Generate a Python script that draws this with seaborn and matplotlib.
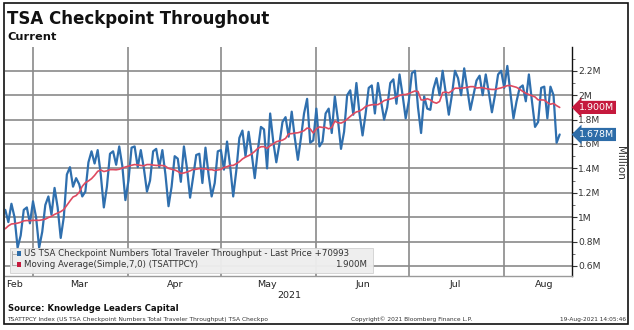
import numpy as np
import pandas as pd
import matplotlib
matplotlib.use("Agg")
import matplotlib.pyplot as plt
import matplotlib.dates as mdates
import matplotlib.transforms as mtransforms
from matplotlib.patches import Rectangle
from matplotlib.lines import Line2D
import seaborn as sns

# ---------------- data (million travellers, daily, as dated on the chart) ----------------
start_date = "2021-02-14"
throughput_m = [
    0.80,
    1.00, 0.98, 0.72, 0.80, 0.98, 1.06, 0.96,
    1.11, 1.00, 0.75, 0.85, 1.06, 1.08, 0.95,
    1.13, 1.00, 0.75, 0.88, 1.10, 1.17, 1.02,
    1.24, 1.08, 0.83, 1.00, 1.35, 1.41, 1.25,
    1.32, 1.27, 1.17, 1.21, 1.45, 1.54, 1.44,
    1.55, 1.35, 1.08, 1.25, 1.52, 1.54, 1.43,
    1.58, 1.42, 1.14, 1.30, 1.57, 1.58, 1.41,
    1.55, 1.40, 1.21, 1.30, 1.54, 1.56, 1.41,
    1.55, 1.35, 1.09, 1.25, 1.50, 1.48, 1.29,
    1.58, 1.40, 1.16, 1.33, 1.51, 1.52, 1.28,
    1.57, 1.35, 1.17, 1.28, 1.54, 1.55, 1.39,
    1.62, 1.42, 1.17, 1.38, 1.65, 1.71, 1.50,
    1.70, 1.52, 1.32, 1.55, 1.74, 1.72, 1.40,
    1.85, 1.62, 1.45, 1.60, 1.78, 1.82, 1.66,
    1.865, 1.65, 1.47, 1.65, 1.85, 1.97, 1.61,
    1.63, 1.89, 1.58, 1.62, 1.85, 1.89, 1.69,
    1.99, 1.80, 1.56, 1.70, 2.00, 2.04, 1.84,
    2.10, 1.85, 1.67, 1.85, 2.06, 2.08, 1.85,
    2.10, 1.95, 1.80, 1.90, 2.10, 2.13, 1.93,
    2.17, 2.00, 1.81, 1.95, 2.18, 2.20, 1.90,
    1.69, 1.99, 1.89, 1.88, 2.05, 2.14, 2.00,
    2.20, 2.02, 1.84, 2.00, 2.20, 2.14, 2.00,
    2.22, 2.05, 1.88, 2.00, 2.12, 2.16, 2.00,
    2.17, 2.02, 1.86, 2.00, 2.17, 2.20, 2.06,
    2.24, 2.02, 1.81, 1.95, 2.06, 2.08, 1.95,
    2.17, 1.95, 1.74, 1.78, 2.06, 2.07, 1.81,
    2.07, 2.00, 1.61, 1.678,
]
first_visible = "2021-02-20"
ma_window = 7
y_ticks = [0.6, 0.8, 1.0, 1.2, 1.4, 1.6, 1.8, 2.0, 2.2]
y_tick_labels = ["0.6M", "0.8M", "1M", "1.2M", "1.4M", "1.6M", "1.8M", "2M", "2.2M"]
month_starts = ["2021-03-01", "2021-04-01", "2021-05-01", "2021-06-01", "2021-07-01", "2021-08-01"]
month_labels = ["Feb", "Mar", "Apr", "May", "Jun", "Jul", "Aug"]
month_label_dates = ["2021-02-23", "2021-03-16", "2021-04-16", "2021-05-16",
                     "2021-06-16", "2021-07-16", "2021-08-14"]
last_price_label = "1.678M"
ma_last_label = "1.900M"
series_label = "US TSA Checkpoint Numbers Total Traveler Throughput - Last Price +70993"
ma_label = "Moving Average(Simple,7,0) (TSATTPCY)"

# ---------------- styling ----------------
sns.set_theme(style="white")
plt.rcParams["font.family"] = ["DejaVu Sans"]

BLUE = "#2f6fae"
RED = "#de4a60"
RED_TAG = "#c5193d"
BLUE_TAG = "#2d6ca8"
GRID = "#8a8a8a"
TXT = "#222222"

df = pd.DataFrame({"date": pd.date_range(start_date, periods=len(throughput_m), freq="D"),
                   "value": throughput_m})
df["ma"] = df["value"].rolling(ma_window).mean()
vis = df[df["date"] >= first_visible]

W, H = 634, 330
fig = plt.figure(figsize=(W / 100, H / 100), dpi=100)
fx = lambda px: px / W
fy = lambda py: 1 - py / H

ax = fig.add_axes([fx(5), fy(276), fx(572) - fx(5), fy(47) - fy(276)])
sns.lineplot(data=vis, x="date", y="value", ax=ax, color=BLUE, lw=1.6, zorder=3)
sns.lineplot(data=vis, x="date", y="ma", ax=ax, color=RED, lw=1.2, zorder=4)

mar1 = pd.Timestamp("2021-03-01")
ax.set_xlim(mdates.date2num(mar1 - pd.Timedelta(days=9.09)),
            mdates.date2num(mar1 + pd.Timedelta(days=175)))
ax.set_ylim(0.518, 2.395)
ax.set_xlabel("")
ax.set_ylabel("")

# y axis on the right
ax.yaxis.tick_right()
ax.set_yticks(y_ticks)
ax.set_yticklabels(y_tick_labels)
ax.set_yticks(np.arange(0.7, 2.31, 0.2), minor=True)
ax.tick_params(axis="y", which="major", direction="out", length=3.5, width=0.8,
               color="#333333", labelsize=6.6, labelcolor="#333333", pad=1, right=True, left=False)
ax.tick_params(axis="y", which="minor", direction="out", length=2, width=0.6,
               color="#555555", right=True, left=False)

# x axis: gridlines at month starts, labels mid-month
ax.set_xticks([mdates.date2num(pd.Timestamp(d)) for d in month_starts])
ax.set_xticklabels([])
ax.set_xticks([mdates.date2num(pd.Timestamp(d)) for d in month_label_dates], minor=True)
ax.set_xticklabels(month_labels, minor=True)
ax.tick_params(axis="x", which="both", length=0, labelsize=6.8, labelcolor=TXT, pad=3)

ax.grid(True, which="major", axis="both", color=GRID, lw=1.2)
ax.set_axisbelow(True)
for s in ["left", "top"]:
    ax.spines[s].set_visible(False)
ax.spines["right"].set_color("#111111")
ax.spines["right"].set_linewidth(1.0)
ax.spines["bottom"].set_color("#9a9a9a")
ax.spines["bottom"].set_linewidth(1.0)

# value tags at the right axis
blend = mtransforms.blended_transform_factory(ax.transAxes, ax.transData)
ax.text(1.012, df["ma"].iloc[-1], ma_last_label, transform=blend, ha="left", va="center",
        color="white", fontsize=6.8, clip_on=False, zorder=10,
        bbox=dict(boxstyle="larrow,pad=0.22", fc=RED_TAG, ec="none"))
ax.text(1.012, df["value"].iloc[-1], last_price_label, transform=blend, ha="left", va="center",
        color="white", fontsize=6.8, clip_on=False, zorder=10,
        bbox=dict(boxstyle="larrow,pad=0.22", fc=BLUE_TAG, ec="none"))

# legend box
ft = fig.transFigure
ax.add_patch(Rectangle((fx(10), fy(273)), fx(373) - fx(10), fy(248) - fy(273), transform=ft,
                       fc="#eeeeee", ec="#cfcfcf", lw=0.6, alpha=0.96, zorder=6, clip_on=False))
ax.add_line(Line2D([fx(12), fx(12)], [fy(251), fy(264.5)], transform=ft, color="#aaaaaa",
                   lw=0.7, zorder=7, clip_on=False))
ax.add_line(Line2D([fx(12), fx(16)], [fy(253.5), fy(253.5)], transform=ft, color="#aaaaaa",
                   lw=0.7, zorder=7, clip_on=False))
ax.add_line(Line2D([fx(12), fx(16)], [fy(264.5), fy(264.5)], transform=ft, color="#aaaaaa",
                   lw=0.7, zorder=7, clip_on=False))
ax.add_patch(Rectangle((fx(16.5), fy(256)), fx(5), fy(0) - fy(5), transform=ft, fc=BLUE_TAG,
                       ec="none", zorder=8, clip_on=False))
ax.add_patch(Rectangle((fx(16.5), fy(267)), fx(5), fy(0) - fy(5), transform=ft, fc=RED_TAG,
                       ec="none", zorder=8, clip_on=False))
ax.text(fx(24), fy(253.5), series_label, transform=ft, fontsize=6.2, color="#333333",
        ha="left", va="center", zorder=8)
ax.text(fx(24), fy(264.5), ma_label, transform=ft, fontsize=6.2, color="#333333",
        ha="left", va="center", zorder=8)
ax.text(fx(367), fy(264.5), ma_last_label, transform=ft, fontsize=6.2, color="#333333",
        ha="right", va="center", zorder=8)

# figure texts
fig.text(fx(7), fy(18.5), "TSA Checkpoint Throughout", fontsize=12, fontweight="bold",
         color="#111111", ha="left", va="center")
fig.text(fx(7), fy(36.5), "Current", fontsize=8.2, fontweight="bold", color="#111111",
         ha="left", va="center")
fig.text(fx(620), fy(163), "Million", rotation=270, fontsize=7.5, color="#333333",
         ha="center", va="center")
fig.text(fx(289), fy(296), "2021", fontsize=6.8, color=TXT, ha="center", va="center")
fig.text(fx(8), fy(308.5), "Source: Knowledge Leaders Capital", fontsize=6.1,
         fontweight="bold", color="#111111", ha="left", va="center")
fig.text(fx(7), fy(319.5),
         "TSATTPCY Index (US TSA Checkpoint Numbers Total Traveler Throughput) TSA Checkpo",
         fontsize=4.3, color="#333333", ha="left", va="center")
fig.text(fx(412), fy(319.5), "Copyright\u00a9 2021 Bloomberg Finance L.P.", fontsize=4.2,
         color="#333333", ha="center", va="center")
fig.text(fx(626), fy(319.5), "19-Aug-2021 14:05:46", fontsize=4.2, color="#333333",
         ha="right", va="center")

# outer border
fig.patches.append(Rectangle((fx(4), fy(324)), fx(628) - fx(4), fy(3) - fy(324),
                             transform=ft, fill=False, ec="#111111", lw=1.2, zorder=20))

fig.savefig("out.png", dpi=100)
